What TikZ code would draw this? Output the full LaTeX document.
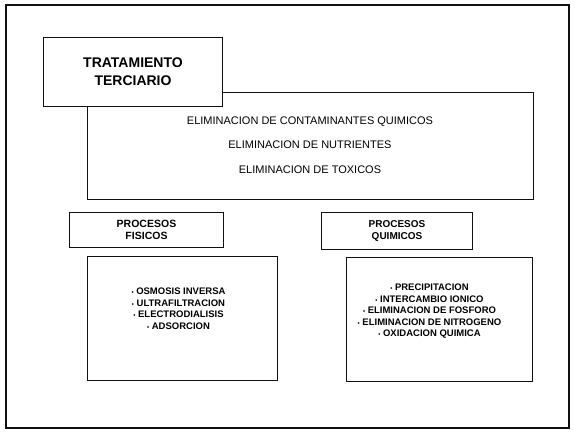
\documentclass[tikz,border=0pt]{standalone}
\usepackage{fontspec}
\setmainfont{Liberation Sans}
\usepackage{tikz}
\definecolor{ink}{HTML}{111111}
\newcommand{\punto}{{\fontsize{6}{6}\selectfont\textbullet}\ }
\tikzset{
  frameline/.style={draw=ink, line width=1.5pt},
  boxline/.style={draw=ink, line width=1pt, fill=white},
  boxtext/.style={align=center, font=\bfseries\fontsize{10}{12.5}\selectfont, inner sep=0pt},
  listtext/.style={boxtext, font=\bfseries\fontsize{9.5}{11.5}\selectfont},
}

\begin{document}
\begin{tikzpicture}[x=1pt, y=-1pt]
    \useasboundingbox (0,0) rectangle (575,431);
    % outer frame
    \draw[frameline] (6,5) rectangle (569,428);
    % big box behind title
    \draw[boxline] (87,92) rectangle (533,199);
    \node[boxline, minimum width=179pt, minimum height=69pt, inner sep=0pt,
          anchor=north west, align=center, font=\bfseries\fontsize{14}{18}\selectfont]
      (titulo) at (43,37) {TRATAMIENTO\\TERCIARIO};
    \node[align=center, font=\fontsize{11}{24.5}\selectfont, inner sep=0pt]
      (objetivos) at (310,145) {ELIMINACION DE CONTAMINANTES QUIMICOS\\
        ELIMINACION DE NUTRIENTES\\ELIMINACION DE TOXICOS};
    % procesos
    \node[boxline, boxtext, minimum width=154pt, minimum height=35pt, anchor=north west,
          font=\bfseries\fontsize{10.5}{12.5}\selectfont]
      (fisicos) at (69,212) {PROCESOS\\FISICOS};
    \node[boxline, boxtext, minimum width=151pt, minimum height=37pt, anchor=north west,
          font=\bfseries\fontsize{10}{12.5}\selectfont]
      (quimicos) at (321,212) {PROCESOS\\QUIMICOS};
    \node[boxline, minimum width=190pt, minimum height=124pt, anchor=north west]
      (listafis) at (87,256) {};
    \node[boxline, minimum width=186pt, minimum height=124pt, anchor=north west]
      (listaquim) at (346,257) {};
    \node[listtext] (itemsfis) at ([xshift=-4pt, yshift=10pt]listafis.center)
      {\punto OSMOSIS INVERSA\\\punto ULTRAFILTRACION\\\punto ELECTRODIALISIS\\\punto ADSORCION};
    \node[listtext] (itemsquim) at ([xshift=-10pt, yshift=8pt]listaquim.center)
      {\punto PRECIPITACION\\\punto INTERCAMBIO IONICO\\\punto ELIMINACION DE FOSFORO\\
       \punto ELIMINACION DE NITROGENO\\\punto OXIDACION QUIMICA};
\end{tikzpicture}
\end{document}
